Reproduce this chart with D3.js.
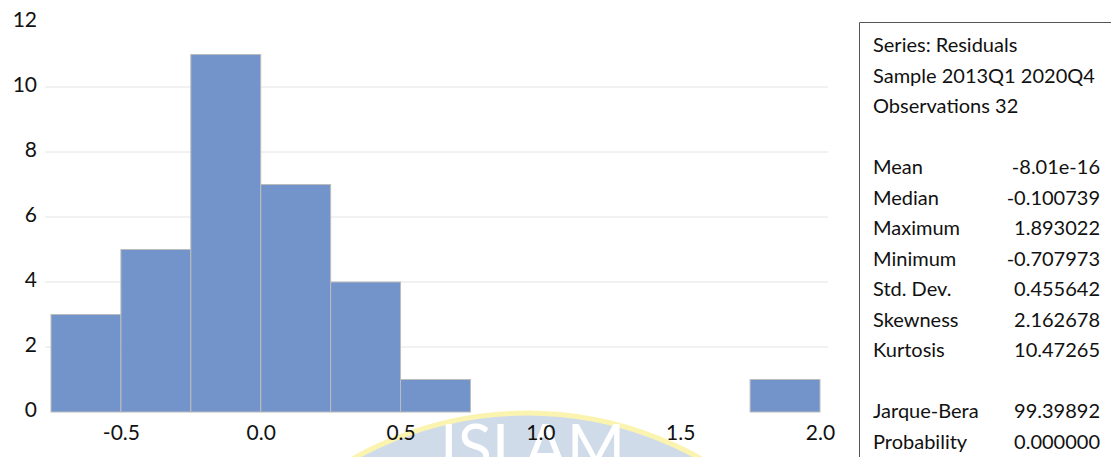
<!DOCTYPE html>
<html>
<head>
<meta charset="utf-8">
<script src="https://cdn.jsdelivr.net/npm/d3@7"></script>
<style>
  html, body { margin: 0; padding: 0; background: #ffffff; }
  svg { display: block; }
  text { font-family: Lato, "Open Sans", sans-serif; fill: #111; }
</style>
</head>
<body>
<svg id="chart" width="1111" height="457"></svg>
<script>
// Histogram of regression residuals, bin width 0.25
const binStarts = [-0.75, -0.5, -0.25, 0.0, 0.25, 0.5, 0.75, 1.0, 1.25, 1.5, 1.75];
const binCounts = [3, 5, 11, 7, 4, 1, 0, 0, 0, 0, 1];
const binWidth = 0.25;

const xTicks = [-0.5, 0.0, 0.5, 1.0, 1.5, 2.0];
const yTicks = [0, 2, 4, 6, 8, 10, 12];

// Descriptive statistics panel
const headerLines = ["Series: Residuals", "Sample 2013Q1 2020Q4", "Observations 32"];
const statNames  = ["Mean", "Median", "Maximum", "Minimum", "Std. Dev.", "Skewness", "Kurtosis"];
const statValues = ["-8.01e-16", "-0.100739", "1.893022", "-0.707973", "0.455642", "2.162678", "10.47265"];
const testNames  = ["Jarque-Bera", "Probability"];
const testValues = ["99.39892", "0.000000"];

const svg = d3.select("#chart");

const x = d3.scaleLinear().domain([-0.75, 2.0]).range([51, 820]);
const y = d3.scaleLinear().domain([0, 12]).range([412, 22]);

// Faint institutional seal behind the axis labels
const seal = svg.append("g");
seal.append("circle")
  .attr("cx", 527).attr("cy", 767).attr("r", 354)
  .attr("fill", "#d0dbea").attr("stroke", "#fbf4b0").attr("stroke-width", 5);
seal.append("text")
  .attr("x", 440).attr("y", 470)
  .attr("font-size", 63)
  .style("fill", "#ffffff")
  .style("font-family", "Lato, sans-serif")
  .text("ISLAM");

// Horizontal gridlines
svg.append("g")
  .selectAll("line")
  .data(yTicks.filter(d => d > 0 && d < 12))
  .join("line")
  .attr("x1", 45).attr("x2", 828)
  .attr("y1", d => y(d)).attr("y2", d => y(d))
  .attr("stroke", "#e4e4e4").attr("stroke-width", 1);

// Histogram bars
const bins = binStarts.map((s, i) => ({ x0: s, x1: s + binWidth, n: binCounts[i] }))
  .filter(b => b.n > 0);

svg.append("g")
  .selectAll("rect")
  .data(bins)
  .join("rect")
  .attr("x", d => x(d.x0))
  .attr("y", d => y(d.n))
  .attr("width", d => x(d.x1) - x(d.x0))
  .attr("height", d => y(0) - y(d.n))
  .attr("fill", "#7394cb")
  .attr("stroke", "#bcbcbc")
  .attr("stroke-width", 1);

// Plain hyphen-minus for negative labels
const fmt1 = v => d3.format(".1f")(v).replace("\u2212", "-");

// Y axis labels
const yAxis = d3.axisLeft(y).tickValues(yTicks).tickSize(0).tickPadding(0)
  .tickFormat(d3.format("d"));
const yg = svg.append("g").attr("transform", "translate(37,-2)").call(yAxis);
yg.select(".domain").remove();
yg.selectAll("text").attr("font-size", 21).style("font-family", "Lato, sans-serif").style("fill", "#111");

// X axis labels
const xAxis = d3.axisBottom(x).tickValues(xTicks).tickSize(0).tickPadding(0)
  .tickFormat(fmt1);
const xg = svg.append("g").attr("transform", "translate(0,425)").call(xAxis);
xg.select(".domain").remove();
xg.selectAll("text").attr("font-size", 21).style("font-family", "Lato, sans-serif").style("fill", "#111");

// Statistics box
const box = svg.append("g");
box.append("path")
  .attr("d", "M859.5,470 V22.5 H1120")
  .attr("fill", "none").attr("stroke", "#555").attr("stroke-width", 1);

const lineH = 30.5, firstBase = 52, labelX = 873, valueX = 1100;
const rows = [];
headerLines.forEach(t => rows.push({ label: t, value: null }));
rows.push(null);
statNames.forEach((t, i) => rows.push({ label: t, value: statValues[i] }));
rows.push(null);
testNames.forEach((t, i) => rows.push({ label: t, value: testValues[i] }));

rows.forEach((r, i) => {
  if (!r) return;
  const yy = firstBase + i * lineH;
  box.append("text").attr("x", labelX).attr("y", yy)
    .attr("font-size", 20).text(r.label);
  if (r.value !== null) {
    box.append("text").attr("x", valueX).attr("y", yy)
      .attr("font-size", 20).attr("text-anchor", "end").text(r.value);
  }
});
</script>
</body>
</html>
